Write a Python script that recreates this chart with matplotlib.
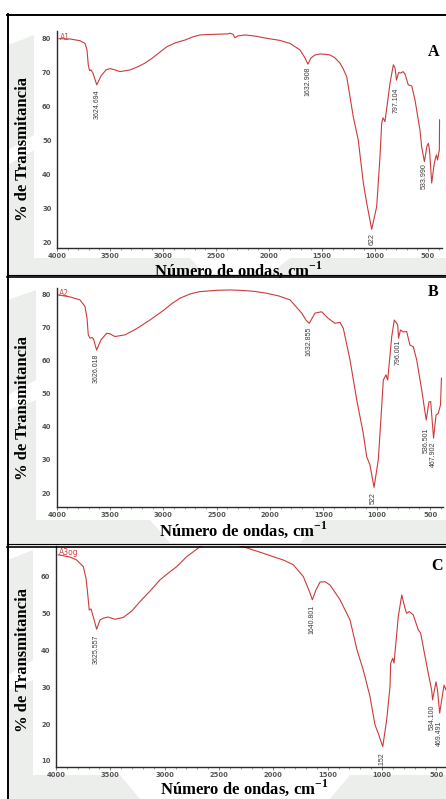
import matplotlib
matplotlib.use("Agg")
import matplotlib.pyplot as plt
from matplotlib.patches import Polygon
from matplotlib.lines import Line2D
from matplotlib.ticker import MultipleLocator

# ---------------- data ----------------
# Sample A1
wn_a = [3981, 3877, 3783, 3736, 3717, 3705, 3693, 3679, 3660, 3625, 3585, 3538, 3500, 3462,
        3406, 3311, 3240, 3170, 3100, 3030, 2965, 2880, 2792, 2720, 2651, 2491, 2387, 2368,
        2340, 2321, 2292, 2226, 2120, 2022, 1900, 1802, 1708, 1660, 1633, 1604, 1566, 1519,
        1472, 1425, 1380, 1330, 1300, 1267, 1205, 1158, 1110, 1078, 1057, 1031, 984, 953,
        937, 924, 906, 858, 827, 811, 797, 778, 755, 736, 717, 686, 654, 623, 576, 560, 534,
        510, 497, 486, 465, 443, 434, 420, 410, 393, 391]
t_a = [80.1, 80.0, 79.5, 78.7, 76.8, 72.4, 70.7, 70.9, 69.9, 66.5, 69.1, 70.9, 71.3, 71.0,
       70.4, 70.9, 71.8, 72.9, 74.4, 76.1, 77.7, 78.9, 79.7, 80.6, 81.2, 81.4, 81.5, 81.7,
       81.4, 80.4, 80.9, 81.2, 80.8, 80.2, 79.6, 78.7, 76.8, 74.4, 72.6, 74.4, 75.3, 75.6,
       75.5, 75.3, 74.5, 72.9, 71.2, 68.9, 57.1, 50.3, 37.6, 31.7, 28.2, 24.0, 30.7, 45.4,
       55.2, 56.8, 55.7, 67.1, 72.4, 71.4, 67.9, 70.1, 70.0, 70.4, 69.7, 66.5, 66.2, 62.1,
       53.2, 48.3, 43.9, 48.5, 49.3, 47.4, 37.6, 42.9, 44.4, 45.9, 44.4, 47.4, 56.2]
peak_txt_a = ["3624.694", "1632.908", "797.104", "533.990", "622"]
peak_wn_a = [3625, 1633, 797, 534, 1024]
peak_t_a = [65.0, 71.8, 65.6, 43.5, 22.9]

# Sample A2
wn_b = [3985, 3875, 3782, 3735, 3716, 3704, 3688, 3669, 3655, 3626, 3585, 3531, 3500, 3454,
        3360, 3250, 3126, 3000, 2920, 2845, 2750, 2658, 2500, 2376, 2282, 2150, 2032, 1920,
        1813, 1704, 1664, 1633, 1579, 1517, 1455, 1392, 1345, 1314, 1251, 1188, 1127, 1095,
        1064, 1026, 986, 954, 939, 914, 898, 860, 836, 815, 804, 796, 778, 754, 720, 689,
        658, 626, 579, 537, 511, 495, 468, 445, 424, 403, 394]
t_b = [80.0, 79.4, 78.5, 76.5, 73.0, 67.9, 66.9, 67.1, 66.7, 63.3, 66.4, 68.4, 68.2, 67.4,
       67.9, 69.8, 72.4, 75.3, 77.4, 79.0, 80.3, 81.0, 81.4, 81.5, 81.4, 81.1, 80.5, 79.7,
       78.5, 74.5, 72.4, 71.4, 74.5, 74.9, 72.9, 71.4, 71.7, 69.9, 60.3, 48.2, 38.1, 31.0,
       28.5, 21.7, 30.0, 46.2, 54.2, 55.8, 54.2, 67.4, 72.4, 71.5, 70.9, 66.9, 69.4, 68.8,
       68.9, 64.8, 64.3, 60.3, 51.2, 42.1, 47.6, 47.7, 36.6, 43.6, 44.1, 46.7, 54.8]
peak_txt_b = ["3626.018", "1632.855", "796.001", "536.501", "467.902", "522"]
peak_wn_b = [3626, 1633, 796, 536, 468, 1036]
peak_t_b = [62.1, 70.3, 66.4, 39.7, 35.5, 20.3]

# Sample A3og
wn_c = [3979, 3871, 3810, 3749, 3724, 3712, 3694, 3678, 3657, 3626, 3595, 3565, 3521, 3457,
        3381, 3300, 3227, 3130, 3043, 2960, 2889, 2797, 2675, 2537, 2399, 2353, 2276, 2184,
        2090, 2000, 1900, 1816, 1724, 1662, 1641, 1607, 1570, 1524, 1478, 1386, 1294, 1230,
        1172, 1110, 1064, 1034, 993, 957, 926, 920, 901, 889, 850, 818, 788, 773, 749, 712,
        666, 644, 574, 543, 534, 503, 489, 469, 443, 429, 411, 393]
t_c = [66.0, 65.4, 64.6, 62.8, 59.7, 56.5, 51.0, 51.3, 49.2, 45.8, 48.3, 48.8, 49.1, 48.5,
       49.0, 50.8, 53.3, 56.3, 59.2, 61.2, 62.8, 65.5, 68.2, 69.5, 69.5, 68.7, 68.2, 67.3,
       66.4, 65.5, 64.5, 63.3, 60.1, 55.6, 53.8, 56.5, 58.6, 58.7, 57.8, 53.8, 48.3, 40.2,
       34.7, 27.5, 19.8, 17.5, 13.9, 21.1, 30.2, 36.5, 37.9, 36.6, 49.2, 55.1, 51.5, 50.1,
       50.6, 49.7, 45.6, 44.7, 33.8, 29.3, 26.6, 31.5, 29.3, 23.0, 28.0, 30.6, 29.3, 32.0]
peak_txt_c = ["3625.557", "1640.801", ".152", "534.100", "469.491"]
peak_wn_c = [3626, 1641, 1005, 534, 469]
peak_t_c = [44.2, 52.4, 12.4, 25.2, 21.1]

x_ticks = [4000, 3500, 3000, 2500, 2000, 1500, 1000, 500]
y_ticks_ab = [20, 30, 40, 50, 60, 70, 80]
y_ticks_c = [10, 20, 30, 40, 50, 60]

sample_names = ["A1", "A2", "A3og"]
panel_letters = ["A", "B", "C"]

# ---------------- figure ----------------
W, H = 446, 799
plt.rcParams["mathtext.fontset"] = "custom"
plt.rcParams["mathtext.rm"] = "Liberation Serif"
plt.rcParams["mathtext.bf"] = "Liberation Serif:bold"

fig = plt.figure(figsize=(W / 100, H / 100), dpi=100)
fig.patch.set_facecolor("white")


def fx(x):
    return x / W


def fy(y):
    return 1 - y / H


def add_poly(points, color, z=0):
    fig.add_artist(Polygon([(fx(x), fy(y)) for x, y in points], closed=True,
                           transform=fig.transFigure, facecolor=color,
                           edgecolor="none", zorder=z))


# faint background watermark bands
wm = "#eceeec"
for pts in [
    [(8, 45), (34, 35), (34, 135), (8, 150)],
    [(8, 165), (34, 150), (34, 258), (8, 262)],
    [(8, 258), (190, 258), (205, 274), (8, 274)],
    [(290, 258), (446, 258), (446, 274), (270, 274)],
    [(8, 300), (36, 290), (36, 380), (8, 395)],
    [(8, 410), (36, 400), (36, 520), (8, 520)],
    [(8, 520), (150, 520), (170, 543), (8, 543)],
    [(320, 520), (446, 520), (446, 543), (300, 543)],
    [(8, 560), (33, 550), (33, 660), (8, 675)],
    [(8, 690), (33, 680), (33, 775), (8, 775)],
    [(8, 775), (120, 775), (140, 799), (8, 799)],
    [(350, 775), (446, 775), (446, 799), (330, 799)],
]:
    add_poly(pts, wm)

# white plot areas
for (x0, y0, x1, y1) in [(34, 31, 446, 258), (37, 285, 446, 520), (34, 547, 446, 775)]:
    add_poly([(x0, y0), (x1, y0), (x1, y1), (x0, y1)], "white", z=0.5)


# panel boxes
def hline(y, x0, x1, lw):
    fig.add_artist(Line2D([fx(x0), fx(x1)], [fy(y), fy(y)], transform=fig.transFigure,
                          color="black", lw=lw, zorder=5))


def vline(x, y0, y1, lw):
    fig.add_artist(Line2D([fx(x), fx(x)], [fy(y0), fy(y1)], transform=fig.transFigure,
                          color="black", lw=lw, zorder=5))


hline(14.5, 7, 446, 1.4)
hline(274.5, 7, 446, 0.9)
hline(277.0, 7, 446, 1.2)
hline(544.0, 7, 446, 0.9)
hline(546.5, 7, 446, 1.2)
vline(7.5, 14, 799, 1.4)

panels = [
    dict(box=(57, 442, 31, 248), xlim=(4000, 368), ylim=(18.5, 82.35), yt=y_ticks_ab,
         wn=wn_a, t=t_a, ptxt=peak_txt_a, pwn=peak_wn_a, pt=peak_t_a,
         name_pos=(3975, 80.3), letter=(433.5, 52), xlab=238, xlab_y=270, ylab_y=149),
    dict(box=(56.7, 443.3, 288, 507), xlim=(4000, 376.7), ylim=(15.76, 82.1), yt=y_ticks_ab,
         wn=wn_b, t=t_b, ptxt=peak_txt_b, pwn=peak_wn_b, pt=peak_t_b,
         name_pos=(3975, 80.3), letter=(433.5, 291.5), xlab=243, xlab_y=530, ylab_y=408),
    dict(box=(56, 452.6, 546, 767), xlim=(4000, 350), ylim=(8.37, 68.4), yt=y_ticks_c,
         wn=wn_c, t=t_c, ptxt=peak_txt_c, pwn=peak_wn_c, pt=peak_t_c,
         name_pos=(3975, 66.6), letter=(437.5, 565.5), xlab=244, xlab_y=788, ylab_y=660),
]

line_color = "#cc3a3a"
tick_col = "#555555"

for i, p in enumerate(panels):
    x0, x1, y0, y1 = p["box"]
    ax = fig.add_axes([fx(x0), fy(y1), (x1 - x0) / W, (y1 - y0) / H])
    ax.set_facecolor("none")
    ax.set_zorder(2)
    ax.plot(p["wn"], p["t"], color=line_color, lw=0.8)
    ax.set_xlim(*p["xlim"])
    ax.set_ylim(*p["ylim"])
    for s in ("top", "right"):
        ax.spines[s].set_visible(False)
    for s in ("left", "bottom"):
        ax.spines[s].set_color("#2b2b2b")
        ax.spines[s].set_linewidth(1.0)
    ax.set_xticks(x_ticks)
    ax.set_xticklabels([str(v) for v in x_ticks], fontsize=4.9, fontweight="bold",
                       color=tick_col, family="DejaVu Sans")
    ax.set_yticks(p["yt"])
    ax.set_yticklabels([str(v) for v in p["yt"]], fontsize=4.9, fontweight="bold",
                       color=tick_col, family="DejaVu Sans")
    ax.xaxis.set_minor_locator(MultipleLocator(100))
    ax.tick_params(axis="x", which="major", length=2.0, width=0.6, color="#666666", pad=1.5)
    ax.tick_params(axis="x", which="minor", length=1.3, width=0.5, color="#777777")
    ax.tick_params(axis="y", which="both", length=0, pad=4)

    for txt, w, tv in zip(p["ptxt"], p["pwn"], p["pt"]):
        ax.text(w, tv, txt, rotation=90, ha="center", va="top", fontsize=5,
                family="Liberation Sans", color="#3a3a3a")

    ax.text(p["name_pos"][0], p["name_pos"][1], sample_names[i], fontsize=5.5,
            color="#d24545", ha="left", va="center", family="DejaVu Sans")

    lx, ly = p["letter"]
    fig.text(fx(lx), fy(ly), panel_letters[i], ha="center", va="center", fontsize=11.5,
             fontweight="bold", family="Liberation Serif", zorder=6)
    fig.text(fx(p["xlab"]), fy(p["xlab_y"]), r"Número de ondas, cm$^{\mathbf{-1}}$",
             ha="center", va="center", fontsize=12, fontweight="bold",
             family="Liberation Serif", zorder=6)
    fig.text(fx(23), fy(p["ylab_y"]), "% de Transmitancia", rotation=90, ha="center",
             va="center", fontsize=12, fontweight="bold", family="Liberation Serif", zorder=6)

fig.savefig("out.png", dpi=100)
